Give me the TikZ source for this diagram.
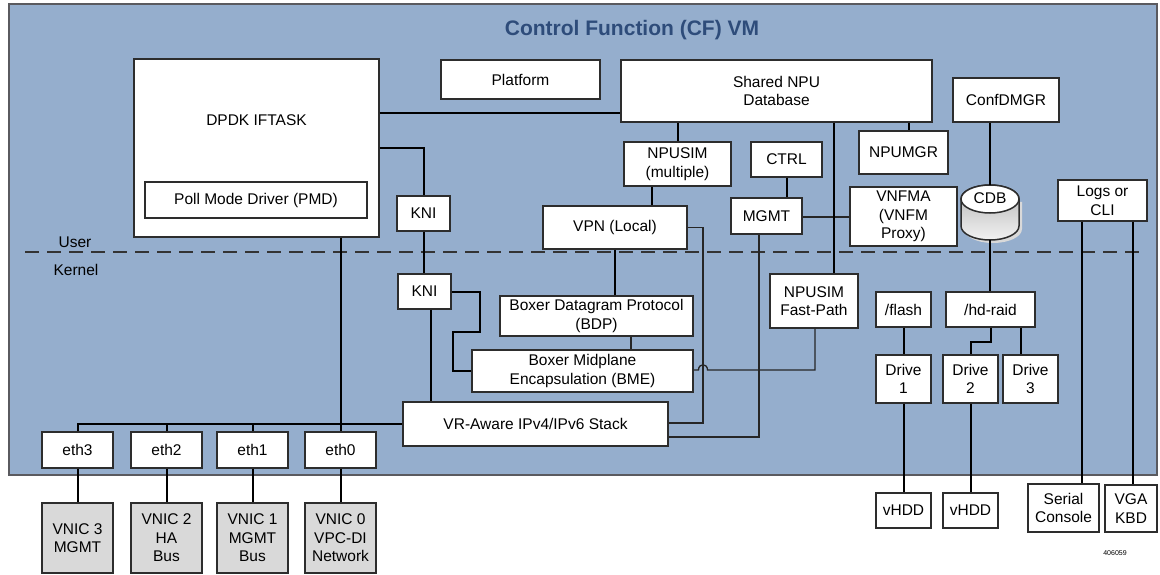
\documentclass[tikz,border=0pt]{standalone}
\usepackage{fontspec}
\setmainfont{Liberation Sans}
\definecolor{cfblue}{RGB}{149,174,205}
\definecolor{framec}{RGB}{90,90,95}
\definecolor{boxc}{RGB}{45,45,45}
\definecolor{vnicc}{RGB}{217,217,217}
\definecolor{titlec}{RGB}{46,76,122}
\begin{document}
\begin{tikzpicture}[x=1pt,y=-1pt,
  txt/.style={font=\fontsize{15.5}{18.5}\selectfont},
  box/.style={draw=boxc, line width=1.3pt, fill=white, inner sep=0pt, align=center, txt},
  gbox/.style={box, fill=vnicc},
  lab/.style={inner sep=0pt, align=center, txt},
  wire/.style={line width=2pt, draw=black},
  twire/.style={line width=1.3pt, draw=black!85},
]
\useasboundingbox (0,0) rectangle (1160,575);
% frame
\node[draw=framec, fill=cfblue, line width=1.5pt, minimum width=1148pt, minimum height=471pt, inner sep=0pt] (cf) at (583,239.5) {};
\node[font=\bfseries\fontsize{21}{25}\selectfont, text=titlec, inner sep=0pt] (title) at (632,30) {Control Function (CF) VM};
% user/kernel separator
\coordinate (dashL) at (25,252);
\coordinate (dashR) at (1145,252);
\draw[line width=1.5pt, dash pattern=on 14pt off 8pt, draw=black!80] (dashL) -- (dashR);
\node[lab] (user) at (75,242) {User};
\node[lab] (kernel) at (76,270) {Kernel};

% boxes
\node[box, minimum width=245pt, minimum height=178pt] (dpdk) at (256.5,148) {};
\node[lab] (dpdkt) at (256.5,120) {DPDK IFTASK};
\node[box, minimum width=222pt, minimum height=36pt] (pmd) at (256,200) {Poll Mode Driver (PMD)};
\node[box, minimum width=159pt, minimum height=39pt] (platform) at (520.5,79.5) {Platform};
\node[box, minimum width=311pt, minimum height=62pt] (shared) at (776.5,91) {Shared NPU\\Database};
\node[box, minimum width=53pt, minimum height=35pt] (kni1) at (423.5,213.5) {KNI};
\node[box, minimum width=53pt, minimum height=35pt] (kni2) at (424.5,291.5) {KNI};
\node[box, minimum width=107pt, minimum height=44pt] (npusim) at (677.5,164) {NPUSIM\\(multiple)};
\node[box, minimum width=144pt, minimum height=43pt] (vpn) at (615,227.5) {VPN (Local)};
\node[box, minimum width=71pt, minimum height=35pt] (ctrl) at (786.5,159.5) {CTRL};
\node[box, minimum width=71pt, minimum height=36pt] (mgmt) at (766.5,216) {MGMT};
\node[box, minimum width=89pt, minimum height=43pt] (npumgr) at (903.5,152.5) {NPUMGR};
\node[box, minimum width=107pt, minimum height=59pt] (vnfma) at (903.5,216.5) {VNFMA\\(VNFM\\Proxy)};
\node[box, minimum width=106pt, minimum height=44pt] (confd) at (1006,100) {ConfDMGR};
\node[box, minimum width=89pt, minimum height=41pt] (logs) at (1102.5,200.5) {Logs or\\CLI};
\node[box, minimum width=193pt, minimum height=40pt] (bdp) at (596.5,316) {Boxer Datagram Protocol\\(BDP)};
\node[box, minimum width=221pt, minimum height=42pt] (bme) at (582.5,371) {Boxer Midplane\\Encapsulation (BME)};
\node[box, minimum width=88pt, minimum height=54pt] (fastpath) at (814,301) {NPUSIM\\Fast-Path};
\node[box, minimum width=55pt, minimum height=35pt] (flash) at (903.5,309.5) {/flash};
\node[box, minimum width=89pt, minimum height=35pt] (hdraid) at (990.5,309.5) {/hd-raid};
\node[box, minimum width=55pt, minimum height=48pt] (drive1) at (903.5,379) {Drive\\1};
\node[box, minimum width=55pt, minimum height=48pt] (drive2) at (970.5,379) {Drive\\2};
\node[box, minimum width=55pt, minimum height=48pt] (drive3) at (1030.5,379) {Drive\\3};
\node[box, minimum width=265pt, minimum height=44pt] (stack) at (535.5,424) {VR-Aware IPv4/IPv6 Stack};
\node[box, minimum width=71pt, minimum height=36pt] (eth3) at (77.5,450) {eth3};
\node[box, minimum width=71pt, minimum height=36pt] (eth2) at (166.5,450) {eth2};
\node[box, minimum width=71pt, minimum height=36pt] (eth1) at (252.5,450) {eth1};
\node[box, minimum width=71pt, minimum height=36pt] (eth0) at (340.5,450) {eth0};
\node[gbox, minimum width=71pt, minimum height=70pt] (vnic3) at (77.5,538) {VNIC 3\\MGMT};
\node[gbox, minimum width=71pt, minimum height=70pt] (vnic2) at (166.5,538) {VNIC 2\\HA\\Bus};
\node[gbox, minimum width=71pt, minimum height=70pt] (vnic1) at (252.5,538) {VNIC 1\\MGMT\\Bus};
\node[gbox, minimum width=71pt, minimum height=70pt] (vnic0) at (340.5,538) {VNIC 0\\VPC-DI\\Network};
\node[box, minimum width=55pt, minimum height=35pt] (vhdd1) at (903.5,510.5) {vHDD};
\node[box, minimum width=55pt, minimum height=35pt] (vhdd2) at (970.5,510.5) {vHDD};
\node[box, minimum width=71pt, minimum height=48pt] (serial) at (1063.5,508) {Serial\\Console};
\node[box, minimum width=52pt, minimum height=47pt] (vga) at (1131,508.5) {VGA\\KBD};
\node[font=\fontsize{7}{8}\selectfont, inner sep=0pt] (figid) at (1115,553) {406059};

% CDB cylinder
\node[minimum width=58pt, minimum height=55pt, inner sep=0pt] (cdb) at (990,212.5) {};
\fill[black!15] (964,202) -- (964,229) arc[start angle=180,end angle=360,x radius=29pt,y radius=14pt] -- (1022,202) -- cycle;
\shade[top color=black!30, bottom color=black!5, draw=boxc, line width=1.5pt]
  (961,199) -- (961,226) arc[start angle=180,end angle=360,x radius=29pt,y radius=14pt] -- (1019,199) arc[start angle=0,end angle=180,x radius=29pt,y radius=14pt] -- cycle;
\draw[fill=white, draw=boxc, line width=1.5pt] (990,199) ellipse [x radius=29pt, y radius=14pt];
\node[lab] (cdbt) at (990,198) {CDB};

% connectors
\draw[wire] (dpdk.east |- 0,113) -- (shared.west |- 0,113);
\draw[wire] (dpdk.east |- 0,148) -| (kni1.north);
\draw[wire] (kni1.south) -- (kni1.south |- kni2.north);
\draw[wire] (kni2.south -| 431,0) -- (stack.north -| 431,0);
\draw[wire] (kni2.east) -- (480,291.5) |- (453,332) |- (bme.west);
\draw[wire] (dpdk.south -| eth0.north) -- (eth0.north);
\draw[wire] (eth3.north) -- (eth3.north |- stack.west) -- (stack.west);
\draw[wire] (eth2.north) -- (eth2.north |- stack.west);
\draw[wire] (eth1.north) -- (eth1.north |- stack.west);
\draw[wire] (eth3.south) -- (vnic3.north);
\draw[wire] (eth2.south) -- (vnic2.north);
\draw[wire] (eth1.south) -- (vnic1.north);
\draw[wire] (eth0.south) -- (vnic0.north);
\draw[wire] (shared.south -| npusim.north) -- (npusim.north);
\draw[wire] (npusim.south -| 652,0) -- (vpn.north -| 652,0);
\draw[wire] (vpn.south) -- (vpn.south |- bdp.north);
\draw[twire] (bdp.south -| 631,0) -- (bme.north -| 631,0);
\draw[twire, line width=1.6pt] (vpn.east) -- (703,227.5) -- (703,423) -- (stack.east |- 0,423);
\draw[twire, line width=1.6pt] (mgmt.south -| 759,0) -- (759,437) -- (stack.east |- 0,437);
\draw[wire] (ctrl.south -| 787,0) -- (mgmt.north -| 787,0);
\draw[twire] (mgmt.east |- 0,217) -- (vnfma.west |- 0,217);
\draw[wire] (shared.south -| 834,0) -- (fastpath.north -| 834,0);
\draw[wire] (shared.south -| 909,0) -- (npumgr.north -| 909,0);
\draw[twire] (fastpath.south -| 815,0) -- (815,370) -- (707.5,370) .. controls (707.5,363) and (698.5,363) .. (698.5,370) -- (bme.east |- 0,370);
\draw[wire] (confd.south -| cdb.north) -- (cdb.north);
\draw[wire] (cdb.south) -- (cdb.south |- hdraid.north);
\draw[wire] (hdraid.south -| 991,0) -- (991,342) -| (drive2.north);
\draw[wire] (hdraid.south -| 1021,0) -- (drive3.north -| 1021,0);
\draw[wire] (flash.south) -- (drive1.north);
\draw[wire] (drive1.south) -- (vhdd1.north);
\draw[wire] (drive2.south) -- (vhdd2.north);
\draw[wire] (logs.south -| 1082,0) -- (serial.north -| 1082,0);
\draw[wire] (logs.south -| 1133,0) -- (vga.north -| 1133,0);
\end{tikzpicture}
\end{document}
